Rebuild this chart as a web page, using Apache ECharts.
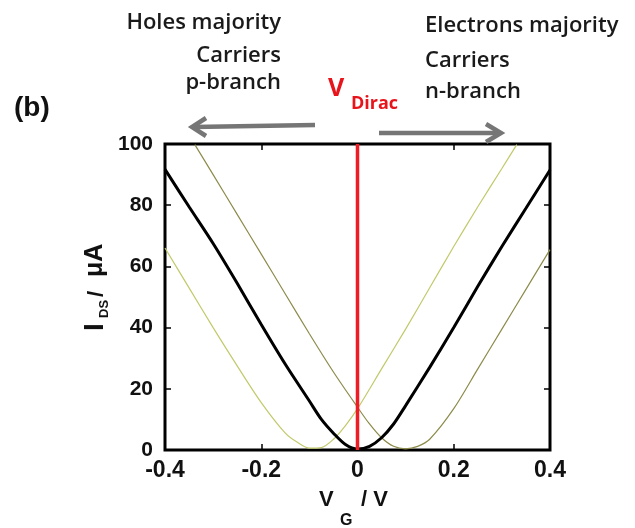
<!DOCTYPE html>
<html>
<head>
<meta charset="utf-8">
<script src="https://cdn.jsdelivr.net/npm/echarts@6/dist/echarts.min.js"></script>
<style>html,body{margin:0;padding:0;background:#fff}#c{width:635px;height:528px}</style>
</head>
<body>
<div id="c"></div>
<script>
// ---- data ----
var xTicks = [-0.4, -0.2, 0, 0.2, 0.4];
var yTicks = [0, 20, 40, 60, 80, 100];

var blackV = [-0.4,-0.35,-0.3,-0.25,-0.2,-0.15,-0.1,-0.075,-0.05,-0.025,0,0.025,0.05,0.075,0.1,0.15,0.2,0.25,0.3,0.35,0.4];
var blackI = [91.7,79.5,67.5,54.5,41,28,16,10,5.5,1.8,0.3,1.2,4,8.5,14.5,27,40,53.5,66.5,79,91.5];

var pShiftV = [-0.4,-0.35,-0.3,-0.25,-0.2,-0.15,-0.125,-0.1,-0.075,-0.05,-0.025,0,0.05,0.1,0.15,0.2,0.25,0.3,0.331];
var pShiftI = [66,53,40,27.5,15.5,5.5,2.5,0.6,0.8,3.5,8,13.5,26.5,39.5,53,66.5,79.5,92,99.8];

var nShiftV = [-0.338,-0.3,-0.25,-0.2,-0.15,-0.1,-0.05,0,0.025,0.05,0.075,0.1,0.125,0.15,0.2,0.25,0.3,0.35,0.4];
var nShiftI = [99.8,90,77,64,51,38,25.5,14,8.5,4,1.2,0.4,1.2,3.5,13.5,26.5,39.5,52.5,65.5];

var diracV = [0, 0];
var diracI = [0, 100];

function pairs(xs, ys){ return xs.map(function(x,i){ return [x, ys[i]]; }); }

var chart = echarts.init(document.getElementById('c'), null, {renderer:'canvas'});
var AR = '"Liberation Sans", Arial';
var TF = '"Open Sans"';
var tickStyle = {show:true, inside:true, length:6, lineStyle:{color:'#000', width:1.5}};
var noLine = {show:false, onZero:false};

function txt(x, y, s, font, fill, align){
  return {type:'text', x:x, y:y, style:{text:s, font:font, fill:fill||'#111', align:align||'left', verticalAlign:'middle'}};
}

var option = {
  animation:false,
  backgroundColor:'#fff',
  grid:{left:165, top:144, right:85, bottom:78, show:true, borderColor:'#000', borderWidth:3, backgroundColor:'transparent'},
  xAxis:[
    {type:'value', min:-0.4, max:0.4, interval:0.2, position:'bottom',
     axisLine:noLine, splitLine:{show:false}, axisTick:tickStyle,
     axisLabel:{margin:9, fontFamily:AR, fontWeight:'bold', fontSize:23, color:'#111',
       formatter:function(v){return String(+v.toFixed(1));}}},
    {type:'value', min:-0.4, max:0.4, interval:0.2, position:'top',
     axisLine:noLine, splitLine:{show:false}, axisTick:tickStyle, axisLabel:{show:false}}
  ],
  yAxis:[
    {type:'value', min:0, max:100, interval:20, position:'left',
     axisLine:noLine, splitLine:{show:false}, axisTick:tickStyle,
     axisLabel:{margin:12, fontFamily:AR, fontWeight:'bold', fontSize:21, color:'#111'}},
    {type:'value', min:0, max:100, interval:20, position:'right',
     axisLine:noLine, splitLine:{show:false}, axisTick:tickStyle, axisLabel:{show:false}}
  ],
  series:[
    {type:'line', data:pairs(pShiftV, pShiftI), symbol:'none', smooth:0.3, lineStyle:{color:'#c2c96a', width:1.2}, z:2},
    {type:'line', data:pairs(nShiftV, nShiftI), symbol:'none', smooth:0.3, lineStyle:{color:'#8d8b4b', width:1.2}, z:2},
    {type:'line', data:pairs(blackV, blackI), symbol:'none', smooth:0.3, lineStyle:{color:'#000', width:3}, z:3},
    {type:'line', data:pairs(diracV, diracI), symbol:'none', lineStyle:{color:'#ee1c25', width:3.5}, z:4}
  ],
  graphic:[
    txt(14, 108, '(b)', 'bold 28px '+AR, '#111'),
    // left annotation
    txt(281, 23, 'Holes majority', '600 22px '+TF, '#1a1a1a', 'right'),
    txt(281, 56, 'Carriers', '600 22px '+TF, '#1a1a1a', 'right'),
    txt(281, 83, 'p-branch', '600 22px '+TF, '#1a1a1a', 'right'),
    // right annotation
    txt(425, 26, 'Electrons majority', '600 22px '+TF, '#1a1a1a'),
    txt(425, 61, 'Carriers', '600 22px '+TF, '#1a1a1a'),
    txt(425, 92, 'n-branch', '600 22px '+TF, '#1a1a1a'),
    // V Dirac
    txt(328, 89, 'V', 'bold 25px '+TF, '#e8141c'),
    txt(351, 104, 'Dirac', 'bold 18px '+TF, '#e8141c'),
    // arrows
    {type:'polyline', shape:{points:[[315,125],[193,127]]}, style:{stroke:'#767676', lineWidth:4.5, fill:null}},
    {type:'polyline', shape:{points:[[206,118],[192,127],[206,136]]}, style:{stroke:'#767676', lineWidth:4.5, fill:null, lineJoin:'miter'}},
    {type:'polyline', shape:{points:[[379,133],[500,133]]}, style:{stroke:'#767676', lineWidth:4.5, fill:null}},
    {type:'polyline', shape:{points:[[486,124],[501,133],[486,142]]}, style:{stroke:'#767676', lineWidth:4.5, fill:null, lineJoin:'miter'}},
    // x axis name
    txt(319, 500, 'V', 'bold 22px '+AR),
    txt(340, 521, 'G', 'bold 16px '+AR),
    txt(361, 500, '/ V', 'bold 22px '+AR),
    // y axis name (rotated)
    {type:'group', x:95, y:288, rotation:Math.PI/2, children:[
      {type:'text', x:-43, y:0, style:{text:'I', font:'bold 28px '+AR, fill:'#111', verticalAlign:'middle'}},
      {type:'text', x:-30, y:9, style:{text:'DS', font:'bold 13px '+AR, fill:'#111', verticalAlign:'middle'}},
      {type:'text', x:-9, y:2, style:{text:'/', font:'bold 22px '+AR, fill:'#111', verticalAlign:'middle'}},
      {type:'text', x:11, y:0, style:{text:'μA', font:'bold 25px '+AR, fill:'#111', verticalAlign:'middle'}}
    ]}
  ]
};
chart.setOption(option);
</script>
</body>
</html>
